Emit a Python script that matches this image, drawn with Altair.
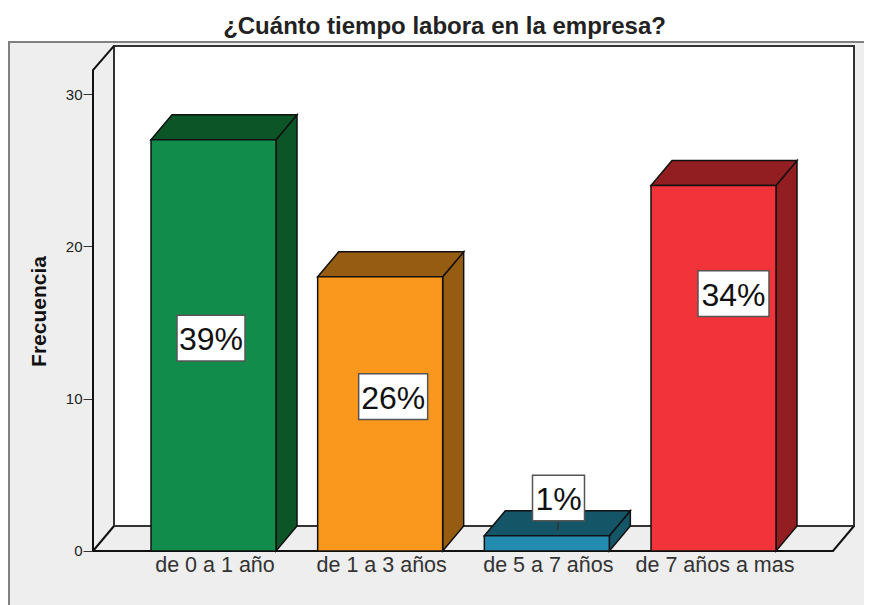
import altair as alt
import pandas as pd

categories = ["de 0 a 1 año", "de 1 a 3 años", "de 5 a 7 años", "de 7 años a mas"]
counts = [27, 18, 1, 24]
front_colors = ["#118c4b", "#fa981e", "#238bb0", "#f2343a"]
dark_colors = ["#0b5527", "#965c12", "#155568", "#921e22"]
labels = ["39%", "26%", "1%", "34%"]
label_x = [-0.015, 0.078, 0.07, 0.12]
label_y = [13.98, 10.14, 3.48, 16.9]
label_halfw = [0.204, 0.207, 0.156, 0.213]
y_ticks = [0, 10, 20, 30]

HALF = 0.375
DX = 0.126
DV = 1.64
LEFT, RIGHT = -0.723, 3.717
AXIS_TOP = 31.58
WALL_TOP = 33.16
XMIN, XMAX = -1.227, 3.903
YMIN, YMAX = -3.546, 33.42

FONT = "Liberation Sans"

xs = alt.Scale(domain=[XMIN, XMAX], nice=False, zero=False)
ys = alt.Scale(domain=[YMIN, YMAX], nice=False, zero=False)
x_axis = alt.Axis(
    values=[0, 1, 2, 3], offset=-54, title=None, domain=False, ticks=False, grid=False,
    labelExpr="['" + "','".join(categories) + "'][datum.value]",
    labelFont=FONT, labelFontSize=21.5, labelColor="#333333", labelPadding=3, labelOffset=1,
    labelOverlap=False, labelBound=False, labelFlush=False)
y_axis = alt.Axis(
    values=y_ticks, offset=-84, title="Frecuencia", domain=False, grid=False,
    tickSize=10, tickColor="#333333", tickWidth=1, labelPadding=1,
    labelFont=FONT, labelFontSize=15, labelColor="#222222", format="d",
    titleFont=FONT, titleFontSize=21, titleFontWeight="bold", titleColor="#111111",
    titleX=-44, titleY=269)
X = lambda f: alt.X(f, type="quantitative", scale=xs, axis=x_axis)
Y = lambda f: alt.Y(f, type="quantitative", scale=ys, axis=y_axis)

# ---- outer frame (top and left edge) and back wall
border = alt.Chart(pd.DataFrame({"x": [XMIN, XMIN, XMAX], "y": [YMIN, YMAX, YMAX], "o": [0, 1, 2]})).mark_line(
    color="#808080", strokeWidth=2
).encode(x=X("x:Q"), y=Y("y:Q"), order="o:Q")

wall = alt.Chart(pd.DataFrame([{"a": LEFT + DX, "b": RIGHT + DX, "c": DV, "d": WALL_TOP}])).mark_rect(
    fill="white", stroke="#333333", strokeWidth=2
).encode(x=X("a:Q"), x2="b:Q", y=Y("c:Q"), y2="d:Q")

seg_rows = []
for sid, pts in enumerate([
    [(LEFT, 0), (LEFT, AXIS_TOP), (LEFT + DX, WALL_TOP)],
    [(LEFT, 0), (LEFT + DX, DV)],
    [(LEFT, 0), (RIGHT, 0), (RIGHT + DX, DV)],
]):
    for o, (a, b) in enumerate(pts):
        seg_rows.append({"sid": sid, "o": o, "x": a, "y": b})
frame = alt.Chart(pd.DataFrame(seg_rows)).mark_line(color="#111111", strokeWidth=2).encode(
    x=X("x:Q"), y=Y("y:Q"), detail="sid:N", order="o:Q"
)

# ---- bars
front, side_top = [], []
for i, v in enumerate(counts):
    x0, x1 = i - HALF, i + HALF
    front.append({"a": x0, "b": x1, "c": 0, "d": v, "fill": front_colors[i]})
    side_top += [
        {"f": f"s{i}", "x": x1, "y": 0, "y2": v, "fill": dark_colors[i]},
        {"f": f"s{i}", "x": x1 + DX, "y": DV, "y2": v + DV, "fill": dark_colors[i]},
        {"f": f"t{i}", "x": x0, "y": v, "y2": v, "fill": dark_colors[i]},
        {"f": f"t{i}", "x": x0 + DX, "y": v, "y2": v + DV, "fill": dark_colors[i]},
        {"f": f"t{i}", "x": x1, "y": v, "y2": v + DV, "fill": dark_colors[i]},
        {"f": f"t{i}", "x": x1 + DX, "y": v + DV, "y2": v + DV, "fill": dark_colors[i]},
    ]
faces = alt.Chart(pd.DataFrame(side_top)).mark_area(stroke="#111111", strokeWidth=1.5).encode(
    x=X("x:Q"), y=Y("y:Q"), y2="y2:Q", detail="f:N", fill=alt.Fill("fill:N", scale=None)
)
fronts = alt.Chart(pd.DataFrame(front)).mark_rect(stroke="#111111", strokeWidth=1.5).encode(
    x=X("a:Q"), x2="b:Q", y=Y("c:Q"), y2="d:Q", fill=alt.Fill("fill:N", scale=None)
)

# ---- percentage labels
lab = pd.DataFrame({
    "t": labels,
    "x": [i + o for i, o in enumerate(label_x)],
    "y": label_y,
    "w": label_halfw,
})
lab["l"] = lab.x - lab.w
lab["r"] = lab.x + lab.w
lab["b"] = lab.y - 1.5
lab["u"] = lab.y + 1.5
leader = alt.Chart(pd.DataFrame({"x": [2 + label_x[2]], "x2": [2 + label_x[2] - 0.006],
                                 "y": [label_y[2] - 1.5], "y2": [label_y[2] - 2.1]})).mark_rule(
    color="#333333", strokeWidth=1.5).encode(x=X("x:Q"), x2="x2:Q", y=Y("y:Q"), y2="y2:Q")
boxes = alt.Chart(lab).mark_rect(fill="white", stroke="#555555", strokeWidth=1.5).encode(
    x=X("l:Q"), x2="r:Q", y=Y("b:Q"), y2="u:Q")
texts = alt.Chart(lab).mark_text(font=FONT, fontSize=32, color="#111111", baseline="middle", align="center", dy=2).encode(
    x=X("x:Q"), y=Y("y:Q"), text="t:N")

chart = alt.layer(border, wall, frame, faces, fronts, leader, boxes, texts).properties(
    width=855, height=563,
    padding={"left": 1, "top": 34, "right": 0, "bottom": 0},
    autosize=alt.AutoSizeParams(type="none"),
    background="#ffffff",
    title=alt.TitleParams("¿Cuánto tiempo labora en la empresa?", font=FONT, fontSize=24, fontWeight="bold",
                          color="#222222", anchor="middle", dx=8, offset=-1),
).configure_view(fill="#eeeeee", stroke=None)

chart.save("out.html", embed_options={"renderer": "svg", "actions": False})
